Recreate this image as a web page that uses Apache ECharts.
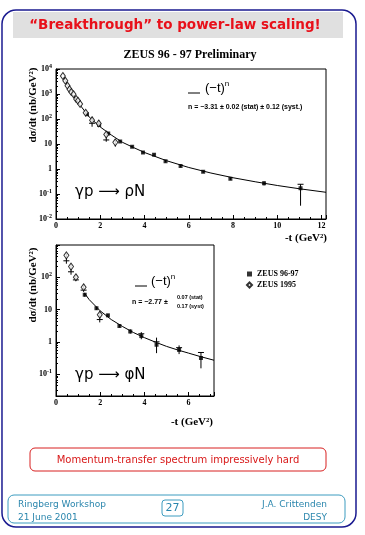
<!DOCTYPE html>
<html><head><meta charset="utf-8">
<script src="https://cdn.jsdelivr.net/npm/echarts@6/dist/echarts.min.js"></script>
<style>html,body{margin:0;padding:0;background:#fff;}#c{width:365px;height:535px;}</style>
</head><body><div id="c"></div>
<script>
// ---- rho (top panel) ----
const rhoNewT  = [1.40, 1.95, 2.36, 2.90, 3.44, 3.93, 4.43, 4.95, 5.63, 6.65, 7.88, 9.40, 11.05];
const rhoNewV  = [155, 57.5, 26.3, 12.6, 7.76, 4.57, 3.72, 2.04, 1.32, 0.776, 0.407, 0.269, 0.170];
const rhoNewLo = [140, 52, 23.5, 11.4, 7.0, 4.1, 3.3, 1.82, 1.17, 0.69, 0.36, 0.22, 0.034];
const rhoNewHi = [172, 64, 29.5, 14.0, 8.6, 5.1, 4.2, 2.3, 1.49, 0.87, 0.46, 0.32, 0.245];
const rhoNewCross = [null, null, null, null, null, null, null, null, null, null, null, null, 0.245];

const rhoOldT  = [0.31, 0.42, 0.52, 0.61, 0.69, 0.79, 0.91, 0.99, 1.09, 1.34, 1.63, 1.93, 2.27, 2.68];
const rhoOldV  = [5250, 3390, 2140, 1550, 1200, 977, 631, 537, 398, 178, 89, 66, 24, 11.7];
const rhoOldLo = [5250, 3390, 2140, 1550, 1200, 977, 631, 537, 398, 178, 49, 50, 12.3, 7.9];
const rhoOldHi = [5250, 3390, 2140, 1550, 1200, 977, 631, 537, 398, 178, 123, 89, 28, 15.8];
const rhoOldCross = [null, null, null, null, null, null, null, null, null, null, 67.6, null, 14.5, null];

const rhoFitT = [0.35, 0.5, 0.75, 1, 1.5, 2, 2.5, 3, 3.5, 4, 5, 6, 7, 8, 9, 10, 11, 12.2];
const rhoFitV = [4790, 2400, 955, 457, 120, 47.9, 22.9, 11.7, 7.24, 4.57, 2.14, 1.15, 0.69, 0.447, 0.309, 0.219, 0.162, 0.117];

// ---- phi (bottom panel) ----
const phiNewT  = [1.30, 1.83, 2.35, 2.87, 3.36, 3.86, 4.55, 5.57, 6.56];
const phiNewV  = [28.8, 11.0, 6.61, 3.09, 2.09, 1.51, 0.813, 0.562, 0.316];
const phiNewLo = [25, 9.8, 5.9, 2.8, 1.8, 1.2, 0.447, 0.417, 0.151];
const phiNewHi = [33, 12.3, 7.4, 3.4, 2.45, 2.0, 1.35, 0.776, 0.468];
const phiNewCross = [null, null, null, null, null, 1.78, 1.0, 0.66, 0.468];

const phiOldT  = [0.47, 0.68, 0.90, 1.25, 1.98];
const phiOldV  = [479, 214, 100, 49, 6.9];
const phiOldLo = [263, 120, 76, 35.5, 4.0];
const phiOldHi = [562, 263, 120, 60, 8.9];
const phiOldCross = [324, 148, 83, 40, 4.9];

const phiFitT = [1.3, 1.5, 2, 2.5, 3, 3.5, 4, 4.5, 5, 5.5, 6, 6.5, 7.15];
const phiFitV = [31.6, 20.4, 9.12, 4.9, 3.02, 1.95, 1.35, 0.977, 0.724, 0.562, 0.447, 0.355, 0.269];

// axis ranges / ticks
const topX = {min: 0, max: 12.2, interval: 2};
const topY = {min: 0.01, max: 10000};
const botX = {min: 0, max: 7.15, interval: 2};
const botY = {min: 0.021, max: 1000};

const legendNames = ['ZEUS 96-97', 'ZEUS 1995'];

function pts(t, v) { return t.map((x, i) => [x, v[i]]); }
function errs(t, lo, hi, cr) {
  return t.map((x, i) => [x, lo[i], hi[i], cr[i] == null ? lo[i] : cr[i], cr[i] == null ? 0 : 1]);
}
function errRender(params, api) {
  const x = api.value(0);
  const p1 = api.coord([x, api.value(1)]);
  const p2 = api.coord([x, api.value(2)]);
  const ch = [{type: 'line', shape: {x1: p1[0], y1: p1[1], x2: p2[0], y2: p2[1]}, style: {stroke: '#000', lineWidth: 1}}];
  if (api.value(4) === 1) {
    const pc = api.coord([x, api.value(3)]);
    ch.push({type: 'line', shape: {x1: pc[0] - 3, y1: pc[1], x2: pc[0] + 3, y2: pc[1]}, style: {stroke: '#000', lineWidth: 1}});
  }
  return {type: 'group', children: ch};
}
function logLabel(v) {
  const e = Math.round(Math.log10(v));
  if (e === 0) return '1';
  if (e === 1) return '10';
  return '10{s|' + e + '}';
}
const serif = '"Liberation Serif", "DejaVu Serif", serif';
const sans = '"Liberation Sans", Arial, sans-serif';
const labelStyle = {fontFamily: serif, fontWeight: 'bold', fontSize: 8, color: '#000'};

function mkX(idx, r) {
  return {
    type: 'value', gridIndex: idx, min: r.min, max: r.max, interval: r.interval,
    axisLine: {show: true, lineStyle: {color: '#000', width: 1}},
    axisTick: {show: true, inside: true, length: 4, lineStyle: {color: '#000'}},
    minorTick: {show: true, splitNumber: 4, length: 2, lineStyle: {color: '#000'}},
    splitLine: {show: false}, minorSplitLine: {show: false},
    axisLabel: Object.assign({margin: 3, showMaxLabel: false}, labelStyle)
  };
}
function mkY(idx, r, showMax) {
  return {
    type: 'log', logBase: 10, gridIndex: idx, min: r.min, max: r.max,
    axisLine: {show: true, lineStyle: {color: '#000', width: 1}},
    axisTick: {show: true, inside: true, length: 4, lineStyle: {color: '#000'}},
    minorTick: {show: true, splitNumber: 8, length: 2, lineStyle: {color: '#000'}},
    splitLine: {show: false}, minorSplitLine: {show: false},
    axisLabel: Object.assign({margin: 4, showMinLabel: idx === 0, showMaxLabel: showMax, formatter: logLabel,
      rich: {s: {fontFamily: serif, fontWeight: 'bold', fontSize: 6, padding: [0, 0, 6, 0]}}}, labelStyle)
  };
}

const chart = echarts.init(document.getElementById('c'), null, {renderer: 'canvas'});
const txt = (x, y, text, font, fill, align, extra) => Object.assign({
  type: 'text', x: x, y: y, silent: true,
  style: {text: text, font: font, fill: fill || '#000', align: align || 'left', verticalAlign: 'middle'}
}, extra || {});

chart.setOption({
  animation: false,
  backgroundColor: '#fff',
  grid: [
    {left: 56, top: 69, width: 270, height: 150, show: true, borderColor: '#000', borderWidth: 1},
    {left: 56, top: 245, width: 158, height: 151, show: true, borderColor: '#000', borderWidth: 1}
  ],
  xAxis: [mkX(0, topX), mkX(1, botX)],
  yAxis: [mkY(0, topY, true), mkY(1, botY, false)],
  legend: {
    data: legendNames, orient: 'vertical', left: 241, top: 265, itemWidth: 5, itemHeight: 5, itemGap: 3,
    textStyle: {fontFamily: serif, fontWeight: 'bold', fontSize: 8, color: '#000'}, selectedMode: false
  },
  series: [
    {type: 'line', xAxisIndex: 0, yAxisIndex: 0, data: pts(rhoFitT, rhoFitV), showSymbol: false, symbol: 'none',
     lineStyle: {color: '#000', width: 1}, silent: true, z: 1},
    {type: 'custom', xAxisIndex: 0, yAxisIndex: 0, data: errs(rhoNewT, rhoNewLo, rhoNewHi, rhoNewCross), renderItem: errRender,
     encode: {x: 0, y: [1, 2]}, silent: true, z: 2},
    {type: 'custom', xAxisIndex: 0, yAxisIndex: 0, data: errs(rhoOldT, rhoOldLo, rhoOldHi, rhoOldCross), renderItem: errRender,
     encode: {x: 0, y: [1, 2]}, silent: true, z: 2},
    {name: legendNames[0], type: 'scatter', xAxisIndex: 0, yAxisIndex: 0, data: pts(rhoNewT, rhoNewV),
     symbol: 'rect', symbolSize: 4, itemStyle: {color: '#000'}, z: 3},
    {name: legendNames[1], type: 'scatter', xAxisIndex: 0, yAxisIndex: 0, data: pts(rhoOldT, rhoOldV),
     symbol: 'diamond', symbolSize: [5, 7], itemStyle: {color: '#fff', borderColor: '#000', borderWidth: 1}, z: 3},

    {type: 'line', xAxisIndex: 1, yAxisIndex: 1, data: pts(phiFitT, phiFitV), showSymbol: false, symbol: 'none',
     lineStyle: {color: '#000', width: 1}, silent: true, z: 1},
    {type: 'custom', xAxisIndex: 1, yAxisIndex: 1, data: errs(phiNewT, phiNewLo, phiNewHi, phiNewCross), renderItem: errRender,
     encode: {x: 0, y: [1, 2]}, silent: true, z: 2},
    {type: 'custom', xAxisIndex: 1, yAxisIndex: 1, data: errs(phiOldT, phiOldLo, phiOldHi, phiOldCross), renderItem: errRender,
     encode: {x: 0, y: [1, 2]}, silent: true, z: 2},
    {name: legendNames[0], type: 'scatter', xAxisIndex: 1, yAxisIndex: 1, data: pts(phiNewT, phiNewV),
     symbol: 'rect', symbolSize: 4, itemStyle: {color: '#000'}, z: 3},
    {name: legendNames[1], type: 'scatter', xAxisIndex: 1, yAxisIndex: 1, data: pts(phiOldT, phiOldV),
     symbol: 'diamond', symbolSize: [5, 7], itemStyle: {color: '#fff', borderColor: '#000', borderWidth: 1}, z: 3}
  ],
  graphic: [
    {type: 'rect', silent: true, shape: {x: 2, y: 10, width: 354, height: 517, r: 14}, style: {fill: 'none', stroke: '#1a1a90', lineWidth: 1.5}},
    {type: 'rect', silent: true, shape: {x: 13, y: 12, width: 330, height: 26}, style: {fill: '#e0e0e0'}},
    txt(175, 25, '\u201CBreakthrough\u201D to power-law scaling!', 'bold 13.5px "DejaVu Sans", sans-serif', '#e8101a', 'center'),
    txt(190, 55, 'ZEUS 96 - 97 Preliminary', 'bold 12px ' + serif, '#000', 'center'),

    txt(33, 105, 'd\u03C3/dt (nb/GeV\u00B2)', 'bold 11px ' + serif, '#000', 'center', {rotation: Math.PI / 2}),
    txt(33, 285, 'd\u03C3/dt (nb/GeV\u00B2)', 'bold 11px ' + serif, '#000', 'center', {rotation: Math.PI / 2}),
    txt(327, 238, '-t (GeV\u00B2)', 'bold 11px ' + serif, '#000', 'right'),
    txt(213, 422, '-t (GeV\u00B2)', 'bold 11px ' + serif, '#000', 'right'),

    {type: 'line', silent: true, shape: {x1: 188, y1: 93, x2: 200, y2: 93}, style: {stroke: '#000', lineWidth: 1}},
    {type: 'text', x: 205, y: 88, silent: true, style: {text: '(\u2212t){s|n}', font: '13px ' + sans, fill: '#000', verticalAlign: 'middle',
      rich: {s: {font: '8px ' + sans, padding: [0, 0, 8, 0]}}}},
    txt(188, 107, 'n = \u22123.31 \u00B1 0.02 (stat) \u00B1 0.12 (syst.)', 'bold 7px ' + sans),
    txt(75, 192, '\u03B3p \u27F6 \u03C1N', '15px "DejaVu Sans", sans-serif'),

    {type: 'line', silent: true, shape: {x1: 135, y1: 286, x2: 147, y2: 286}, style: {stroke: '#000', lineWidth: 1}},
    {type: 'text', x: 151, y: 281, silent: true, style: {text: '(\u2212t){s|n}', font: '13px ' + sans, fill: '#000', verticalAlign: 'middle',
      rich: {s: {font: '8px ' + sans, padding: [0, 0, 8, 0]}}}},
    txt(132, 302, 'n = \u22122.77 \u00B1', 'bold 7px ' + sans),
    txt(177, 297, '0.07 (stat)', 'bold 5.5px ' + sans),
    txt(177, 306, '0.17 (syst)', 'bold 5.5px ' + sans),
    txt(75, 375, '\u03B3p \u27F6 \u03C6N', '15px "DejaVu Sans", sans-serif'),

    {type: 'rect', silent: true, shape: {x: 30, y: 448, width: 296, height: 23, r: 5}, style: {fill: 'none', stroke: '#d82020', lineWidth: 1}},
    txt(178, 460, 'Momentum-transfer spectrum impressively hard', '10px "DejaVu Sans", sans-serif', '#d81818', 'center'),

    {type: 'rect', silent: true, shape: {x: 8, y: 495, width: 337, height: 28, r: 6}, style: {fill: 'none', stroke: '#3d9cc0', lineWidth: 1}},
    txt(18, 505, 'Ringberg Workshop', '9px "DejaVu Sans", sans-serif', '#2a86ad'),
    txt(18, 518, '21 June 2001', '9px "DejaVu Sans", sans-serif', '#2a86ad'),
    {type: 'rect', silent: true, shape: {x: 162, y: 500, width: 21, height: 16, r: 3}, style: {fill: 'none', stroke: '#3d9cc0', lineWidth: 1}},
    txt(172.5, 508.5, '27', '11px "DejaVu Sans", sans-serif', '#2a86ad', 'center'),
    txt(327, 505, 'J.A. Crittenden', '9px "DejaVu Sans", sans-serif', '#2a86ad', 'right'),
    txt(327, 518, 'DESY', '9px "DejaVu Sans", sans-serif', '#2a86ad', 'right')
  ]
});
</script>
</body></html>
